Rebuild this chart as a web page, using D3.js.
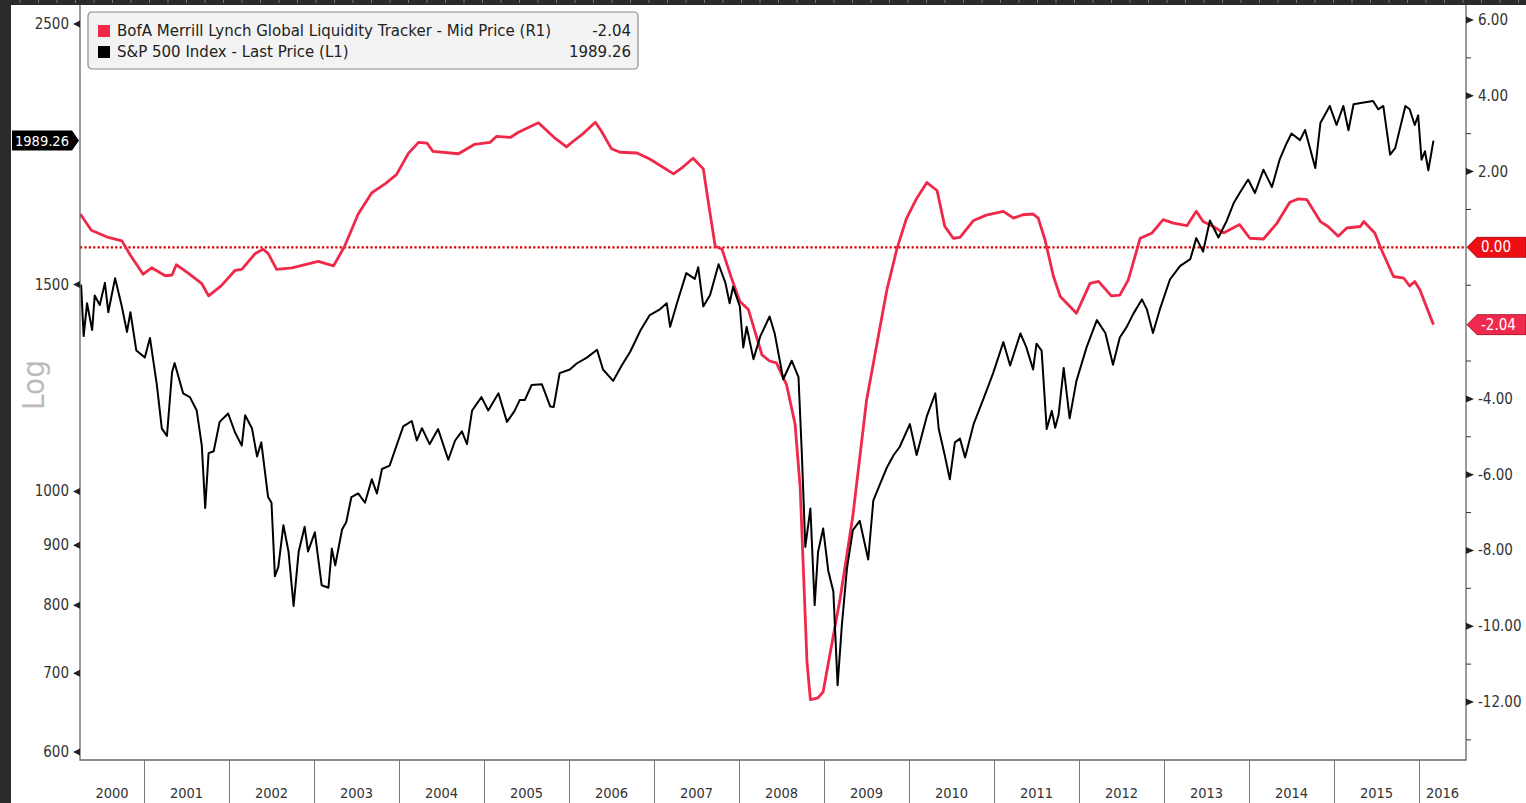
<!DOCTYPE html>
<html lang="en">
<head>
<meta charset="utf-8">
<title>Global Liquidity Tracker vs S&amp;P 500</title>
<script src="https://cdnjs.cloudflare.com/ajax/libs/d3/7.8.5/d3.min.js"></script>
<style>
  body { margin: 0; background: #fff; }
  svg text { font-family: "DejaVu Sans Condensed", "DejaVu Sans", sans-serif; }
</style>
</head>
<body>
<svg width="1526" height="803"></svg>
<script>
// ---- data (decimal year, value) ----
var spxDates = [2000.26,2000.29,2000.33,2000.39,2000.42,2000.48,2000.54,2000.58,2000.66,2000.74,2000.80,2000.84,2000.91,
  2001.01,2001.07,2001.15,2001.21,2001.27,2001.33,2001.36,2001.46,2001.54,2001.62,2001.68,2001.72,2001.76,2001.82,2001.89,2001.99,
  2002.07,2002.15,2002.19,2002.27,2002.33,2002.38,2002.46,2002.50,2002.54,2002.58,2002.64,2002.70,2002.76,2002.82,2002.89,2002.93,
  2003.01,2003.09,2003.17,2003.21,2003.25,2003.33,2003.38,2003.44,2003.52,2003.60,2003.68,2003.74,2003.80,2003.89,2003.95,
  2004.05,2004.15,2004.21,2004.27,2004.36,2004.46,2004.58,2004.66,2004.74,2004.80,2004.86,2004.97,
  2005.05,2005.17,2005.27,2005.36,2005.42,2005.48,2005.56,2005.68,2005.78,2005.82,2005.89,
  2006.01,2006.09,2006.21,2006.33,2006.40,2006.52,2006.62,2006.72,2006.84,2006.95,
  2007.07,2007.15,2007.19,2007.27,2007.38,2007.48,2007.52,2007.58,2007.66,2007.76,2007.84,2007.89,2007.93,
  2008.01,2008.05,2008.09,2008.17,2008.25,2008.36,2008.42,2008.48,2008.52,2008.62,2008.70,2008.74,2008.78,2008.84,2008.89,2008.93,2008.99,
  2009.05,2009.11,2009.16,2009.21,2009.27,2009.34,2009.42,2009.52,2009.58,2009.66,2009.74,2009.82,2009.89,
  2010.01,2010.09,2010.21,2010.31,2010.35,2010.42,2010.48,2010.54,2010.60,2010.66,2010.76,2010.87,2010.99,
  2011.11,2011.19,2011.31,2011.38,2011.46,2011.50,2011.56,2011.62,2011.68,2011.72,2011.76,2011.82,2011.89,2011.97,
  2012.09,2012.21,2012.31,2012.40,2012.48,2012.56,2012.64,2012.74,2012.80,2012.87,2012.95,
  2013.07,2013.19,2013.31,2013.38,2013.46,2013.54,2013.64,2013.74,2013.82,2013.89,2013.99,
  2014.07,2014.17,2014.27,2014.36,2014.44,2014.50,2014.60,2014.66,2014.78,2014.84,2014.95,
  2015.03,2015.11,2015.17,2015.23,2015.35,2015.46,2015.52,2015.58,2015.66,2015.72,2015.84,2015.89,2015.95,2015.99,
  2016.03,2016.07,2016.11,2016.17];
var spxValues = [1500,1356,1446,1372,1468,1441,1505,1421,1519,1436,1367,1421,1318,
  1300,1351,1234,1131,1115,1263,1286,1212,1203,1172,1094,968,1078,1082,1146,1165,
  1123,1094,1161,1132,1071,1101,989,978,847,862,936,889,799,889,933,889,
  923,832,828,894,865,928,942,989,996,978,1024,996,1045,1052,1083,
  1136,1148,1105,1132,1097,1130,1064,1105,1125,1097,1172,1203,
  1172,1212,1146,1171,1196,1196,1232,1234,1181,1180,1261,
  1270,1285,1300,1320,1270,1242,1280,1315,1371,1413,
  1429,1446,1381,1446,1534,1517,1552,1437,1470,1561,1505,1446,1494,
  1437,1326,1381,1296,1355,1409,1363,1292,1246,1292,1251,1074,897,967,800,888,930,
  856,822,684,769,860,927,944,875,982,1015,1048,1074,1091,
  1141,1074,1159,1212,1130,1074,1024,1101,1109,1069,1141,1196,1261,
  1340,1280,1363,1327,1270,1336,1318,1130,1171,1133,1162,1274,1154,1242,
  1327,1399,1364,1282,1352,1380,1417,1457,1428,1364,1428,
  1515,1556,1577,1643,1600,1701,1645,1701,1760,1795,1843,
  1795,1879,1816,1916,1977,2017,1991,2031,1885,2059,2129,
  2051,2129,2030,2136,2143,2150,2115,2129,1935,1960,2129,2115,2051,2090,
  1916,1948,1877,1989.26];

var gltDates = [2000.25,2000.38,2000.58,2000.74,2000.84,2000.99,2001.09,2001.25,2001.33,2001.38,2001.52,2001.68,2001.76,2001.91,
  2002.07,2002.15,2002.31,2002.40,2002.46,2002.56,2002.74,2003.05,2003.23,2003.36,2003.52,2003.68,2003.84,2003.97,
  2004.11,2004.23,2004.33,2004.40,2004.70,2004.89,2005.07,2005.15,2005.31,2005.40,2005.64,2005.82,2005.97,
  2006.05,2006.17,2006.31,2006.38,2006.50,2006.60,2006.80,2006.95,2007.23,2007.34,2007.46,2007.58,2007.64,2007.72,2007.80,2007.91,
  2008.01,2008.11,2008.27,2008.36,2008.44,2008.56,2008.66,2008.72,2008.76,2008.80,2008.84,2008.93,2008.99,
  2009.07,2009.19,2009.34,2009.50,2009.62,2009.74,2009.86,2009.97,2010.09,2010.21,2010.33,2010.42,2010.52,2010.60,2010.76,2010.91,
  2011.11,2011.23,2011.34,2011.46,2011.52,2011.60,2011.70,2011.78,2011.97,2012.13,2012.23,2012.38,2012.48,2012.58,2012.72,2012.86,2012.99,
  2013.11,2013.27,2013.38,2013.46,2013.58,2013.70,2013.89,2014.01,2014.17,2014.33,2014.48,2014.58,2014.68,2014.84,2014.93,
  2015.05,2015.15,2015.31,2015.35,2015.48,2015.56,2015.70,2015.82,2015.89,2015.95,2016.01,2016.17];
var gltValues = [0.88,0.45,0.26,0.17,-0.21,-0.71,-0.54,-0.75,-0.73,-0.46,-0.68,-0.96,-1.28,-1.01,
  -0.61,-0.58,-0.16,-0.05,-0.16,-0.58,-0.54,-0.37,-0.49,0.03,0.88,1.44,1.68,1.92,
  2.48,2.77,2.75,2.53,2.47,2.72,2.77,2.93,2.90,3.03,3.29,2.91,2.65,
  2.80,3.01,3.30,3.07,2.60,2.51,2.49,2.33,1.94,2.12,2.35,2.07,1.18,0.03,-0.05,-0.80,
  -1.43,-1.64,-2.84,-3.00,-3.05,-3.63,-4.67,-6.35,-8.65,-10.95,-11.94,-11.89,-11.73,
  -10.74,-9.27,-7.08,-4.05,-2.58,-1.12,-0.02,0.76,1.29,1.71,1.50,0.56,0.24,0.26,0.71,0.85,
  0.95,0.77,0.86,0.88,0.77,0.20,-0.77,-1.30,-1.74,-0.95,-0.90,-1.28,-1.26,-0.86,0.24,0.38,0.73,
  0.64,0.57,0.95,0.68,0.55,0.38,0.60,0.24,0.22,0.64,1.19,1.28,1.26,0.68,0.55,
  0.29,0.51,0.55,0.68,0.38,-0.07,-0.77,-0.81,-1.02,-0.90,-1.12,-2.04];

var years = d3.range(2000, 2017);
var leftTicks = [600, 700, 800, 900, 1000, 1500, 2500];
var rightTicks = [-12, -10, -8, -6, -4, 2, 4, 6];
var rightMinor = [-13, -11, -9, -7, -5, -3, -1, 1, 3, 5];

var lastSpx = 1989.26, lastGlt = -2.04;

// hyphen instead of the unicode minus d3 uses
var fmt2 = function(v){ return d3.format(".2f")(v).replace("\u2212", "-"); };

// ---- layout ----
var svg = d3.select("svg");
var L = 80, R = 1466, T = 5, B = 760;

var x = d3.scaleLinear().domain([2000 + 21 / 85, 2000 + 1407 / 85]).range([L, R]);
var yL = d3.scaleLog().domain([600, 2500]).range([752, 24]);
var yR = d3.scaleLinear().domain([-12, 6]).range([702, 20]);

// dark frame
svg.append("rect").attr("x", 0).attr("y", 0).attr("width", 1526).attr("height", 5).attr("fill", "#2a2a2a");
svg.append("rect").attr("x", 0).attr("y", 0).attr("width", 11).attr("height", 803).attr("fill", "#2a2a2a");
svg.append("g").selectAll("line").data(d3.range(20, 1526, 18.5)).enter().append("line")
  .attr("x1", function(d){ return d; }).attr("x2", function(d){ return d; })
  .attr("y1", 0).attr("y2", 3).attr("stroke", "#777").attr("stroke-width", 1);

svg.append("clipPath").attr("id", "plot").append("rect")
  .attr("x", L).attr("y", T).attr("width", R - L).attr("height", B - T);

// zero line
svg.append("line").attr("x1", L).attr("x2", R).attr("y1", yR(0)).attr("y2", yR(0))
  .attr("stroke", "#d40000").attr("stroke-width", 2.2).attr("stroke-dasharray", "2.2,2.2");

var g = svg.append("g").attr("clip-path", "url(#plot)");

var redLine = d3.line().x(function(d, i){ return x(gltDates[i]); }).y(function(d){ return yR(d); });
g.append("path").datum(gltValues).attr("d", redLine)
  .attr("fill", "none").attr("stroke", "#f0284a").attr("stroke-width", 2.8).attr("stroke-linejoin", "round");

var blackLine = d3.line().x(function(d, i){ return x(spxDates[i]); }).y(function(d){ return yL(d); });
g.append("path").datum(spxValues).attr("d", blackLine)
  .attr("fill", "none").attr("stroke", "#000").attr("stroke-width", 2).attr("stroke-linejoin", "round");

// axes frame
svg.append("path").attr("d", "M" + L + "," + T + "V" + B + "H" + R + "V" + T)
  .attr("fill", "none").attr("stroke", "#666").attr("stroke-width", 1.3);

// bottom: year separators + labels
var xa = svg.append("g");
xa.selectAll("line").data(years.slice(1)).enter().append("line")
  .attr("x1", function(d){ return Math.round(x(d)) + 0.5; }).attr("x2", function(d){ return Math.round(x(d)) + 0.5; })
  .attr("y1", B).attr("y2", 803).attr("stroke", "#777").attr("stroke-width", 1);
xa.selectAll("text").data(years).enter().append("text")
  .attr("x", function(d){ return (Math.max(x(d), L) + Math.min(x(d + 1), R)) / 2; })
  .attr("y", 798).attr("text-anchor", "middle").attr("font-size", 14.5).attr("fill", "#333")
  .text(function(d){ return d; });

// left axis
var la = svg.append("g");
la.selectAll("path").data(leftTicks).enter().append("path")
  .attr("d", function(d){ var y = yL(d); return "M" + L + "," + (y - 3.5) + "L" + (L - 7) + "," + y + "L" + L + "," + (y + 3.5) + "Z"; })
  .attr("fill", "#222");
la.selectAll("text").data(leftTicks).enter().append("text")
  .attr("x", 69).attr("y", function(d){ return yL(d) + 5; })
  .attr("text-anchor", "end").attr("font-size", 15).attr("fill", "#333")
  .text(function(d){ return d; });

svg.append("text").attr("transform", "translate(44,385) rotate(-90)")
  .attr("text-anchor", "middle").attr("font-size", 31).attr("fill", "#bbb").text("Log");

// right axis
var ra = svg.append("g");
ra.selectAll("path").data(rightTicks).enter().append("path")
  .attr("d", function(d){ var y = yR(d); return "M" + R + "," + (y - 3.5) + "L" + (R + 8) + "," + y + "L" + R + "," + (y + 3.5) + "Z"; })
  .attr("fill", "#222");
ra.selectAll("line").data(rightMinor).enter().append("line")
  .attr("x1", R).attr("x2", R + 5).attr("y1", function(d){ return yR(d); }).attr("y2", function(d){ return yR(d); })
  .attr("stroke", "#333").attr("stroke-width", 1);
ra.selectAll("text").data(rightTicks).enter().append("text")
  .attr("x", 1478).attr("y", function(d){ return yR(d) + 5; })
  .attr("font-size", 15).attr("fill", "#333")
  .text(fmt2);

// value tags
function rightTag(v, fill) {
  var y = yR(v);
  svg.append("path")
    .attr("d", "M" + (R + 1) + "," + y + "L" + (R + 11) + "," + (y - 10) + "H1526V" + (y + 10) + "H" + (R + 11) + "Z")
    .attr("fill", fill).attr("stroke", "#a00010").attr("stroke-width", 0.8);
  svg.append("text").attr("x", 1481).attr("y", y + 5).attr("font-size", 15).attr("fill", "#fff")
    .text(fmt2(v));
}
rightTag(0, "#ee0f14");
rightTag(lastGlt, "#f02a4f");

var ty = yL(lastSpx);
svg.append("path")
  .attr("d", "M12," + (ty - 10) + "H72L79," + ty + "L72," + (ty + 10) + "H12Z").attr("fill", "#000");
svg.append("text").attr("x", 15).attr("y", ty + 5).attr("font-size", 14.5).attr("fill", "#fff")
  .text(fmt2(lastSpx));

// legend
var lg = svg.append("g").attr("transform", "translate(88,12)");
lg.append("rect").attr("width", 550).attr("height", 57).attr("rx", 4)
  .attr("fill", "#f3f3f3").attr("stroke", "#8a8a8a").attr("stroke-width", 1.2);
var items = [
  { name: "BofA Merrill Lynch Global Liquidity Tracker - Mid Price (R1)", val: "-2.04", color: "#f0284a" },
  { name: "S&P 500 Index - Last Price (L1)", val: "1989.26", color: "#000" }
];
var row = lg.selectAll("g").data(items).enter().append("g")
  .attr("transform", function(d, i){ return "translate(0," + (19 + i * 21) + ")"; });
row.append("rect").attr("x", 10).attr("y", -6).attr("width", 12).attr("height", 12)
  .attr("fill", function(d){ return d.color; });
row.append("text").attr("x", 29).attr("y", 5).attr("font-size", 15).attr("fill", "#222")
  .style("font-family", "'DejaVu Sans', sans-serif")
  .text(function(d){ return d.name; });
row.append("text").attr("x", 543).attr("y", 5).attr("text-anchor", "end").attr("font-size", 15).attr("fill", "#222")
  .style("font-family", "'DejaVu Sans', sans-serif")
  .text(function(d){ return d.val; });
</script>
</body>
</html>
